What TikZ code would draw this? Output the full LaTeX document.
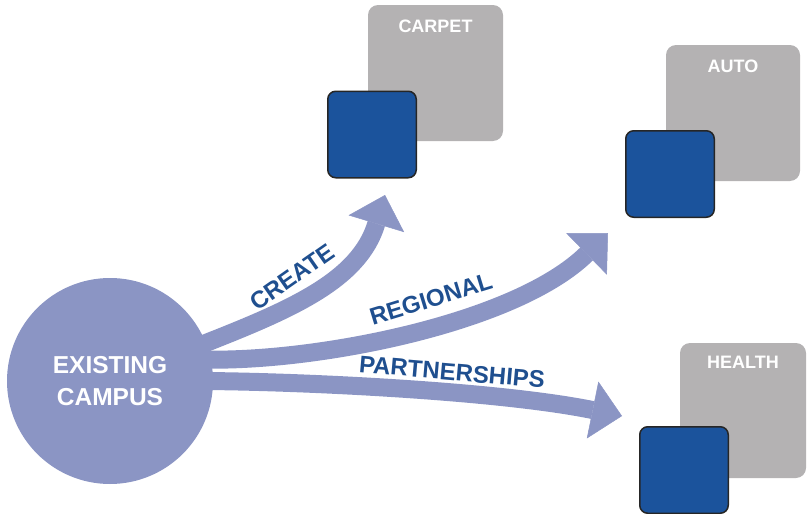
\documentclass[tikz,border=0pt]{standalone}
\usepackage{fontspec}
\setmainfont{Liberation Sans}
\usetikzlibrary{arrows.meta,backgrounds,positioning}
\definecolor{campus}{HTML}{8B95C4}
\definecolor{sectorgray}{HTML}{B4B2B3}
\definecolor{unitblue}{HTML}{1B539C}
\definecolor{verbblue}{HTML}{1F4F8F}

\begin{document}
\begin{tikzpicture}[x=1pt,y=-1pt,
	hub/.style={circle,fill=campus,minimum size=206pt,inner sep=0pt,text=white,align=center,font=\fontsize{24.5}{32}\selectfont\bfseries},
	sector/.style={fill=sectorgray,rounded corners=10pt,inner sep=0pt},
	unit/.style={fill=unitblue,draw=black!85,line width=1.5pt,rounded corners=8pt,minimum width=88.5pt,minimum height=86.5pt,inner sep=0pt},
	tag/.style={text=white,font=\fontsize{18}{18}\selectfont\bfseries,inner sep=0pt},
	flow/.style={draw=campus,line width=18pt,-{Triangle[length=30pt,width=58pt,line width=0.5pt]}},
	verb/.style={text=verbblue,font=\fontsize{24}{24}\selectfont\bfseries,inner sep=0pt}]
		\useasboundingbox (0,0) rectangle (807,514);
		\node[hub] (campus) at (110,381) {EXISTING\\CAMPUS};

		\node[sector,minimum width=135pt,minimum height=136pt] (carpet) at (435.5,73) {};
		\node[tag,below=15pt of carpet.north] (carpet tag) {CARPET};
		\node[unit] (carpet unit) at (372,134.5) {};

		\node[sector,minimum width=134pt,minimum height=136pt] (auto) at (733,113) {};
		\node[tag,below=14.5pt of auto.north] (auto tag) {AUTO};
		\node[unit] (auto unit) at (670,174) {};

		\node[sector,minimum width=126pt,minimum height=135pt] (health) at (743,410.5) {};
		\node[tag,below=13pt of health.north] (health tag) {HEALTH};
		\node[unit] (health unit) at (684,470) {};

		\coordinate (create tip) at (385,195);
		\coordinate (regional tip) at (608,233);
		\coordinate (partnerships tip) at (622,416);
		\begin{scope}[on background layer]
			\draw[flow] ([xshift=-8pt]campus.20) .. controls (290,310) and (359,281) .. (create tip);
			\draw[flow] ([xshift=-6pt]campus.12) .. controls (315,362) and (515,324) .. (regional tip);
			\draw[flow] ([xshift=-8pt]campus.0) .. controls (320,382) and (504,392) .. (partnerships tip);
		\end{scope}
		\node[verb,rotate=35] (create) at (292,277) {CREATE};
		\node[verb,rotate=17] (regional) at (431,299) {REGIONAL};
		\node[verb,rotate=-5] (partnerships) at (452,372) {PARTNERSHIPS};
	\end{tikzpicture}
\end{document}
